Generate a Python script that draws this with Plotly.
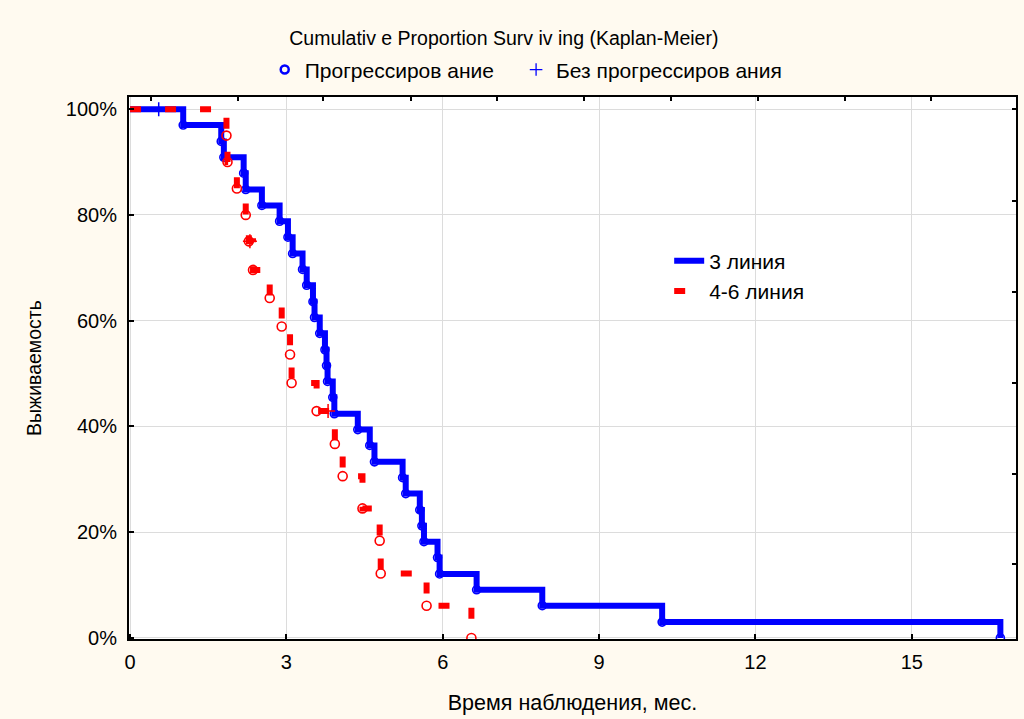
import plotly.graph_objects as go

# Kaplan-Meier step data: event times (months) and survival after each event
line3_times = [0, 1.02, 1.75, 1.80, 2.18, 2.22, 2.53, 2.87, 3.03, 3.12, 3.31, 3.39,
               3.51, 3.54, 3.64, 3.74, 3.77, 3.79, 3.89, 3.92, 4.37, 4.60, 4.69,
               5.23, 5.29, 5.56, 5.60, 5.64, 5.90, 5.94, 6.65, 7.91, 10.21, 16.70]
line3_surv = [1.0, 0.970, 0.939, 0.909, 0.879, 0.848, 0.818, 0.788, 0.758, 0.727,
              0.697, 0.667, 0.636, 0.606, 0.576, 0.545, 0.515, 0.485, 0.455, 0.424,
              0.394, 0.364, 0.333, 0.303, 0.273, 0.242, 0.212, 0.182, 0.152, 0.121,
              0.091, 0.061, 0.030, 0.0]
line3_cens_t = [0.55]
line3_cens_s = [1.0]

line46_times = [0, 1.85, 1.87, 2.05, 2.22, 2.28, 2.36, 2.68, 2.91, 3.07, 3.10,
                3.58, 3.93, 4.08, 4.46, 4.79, 4.81, 5.69, 6.55]
line46_surv = [1.0, 0.95, 0.90, 0.85, 0.80, 0.75, 0.696, 0.643, 0.589, 0.536,
               0.482, 0.429, 0.367, 0.306, 0.245, 0.184, 0.122, 0.061, 0.0]
line46_cens_t = [2.30, 3.80]
line46_cens_s = [0.75, 0.429]

x_ticks = [0, 3, 6, 9, 12, 15]
y_ticks = [0, 0.2, 0.4, 0.6, 0.8, 1.0]
# secondary frame ticks along the top and right borders
top_ticks = [0.40, 2.07, 3.71, 5.40, 7.05, 8.71, 10.38, 12.04, 13.71, 15.37]
right_ticks = [1.0, 0.826, 0.654, 0.482, 0.310, 0.140]

BLUE = "#0000FF"
RED = "#FF0000"
FONT = "Liberation Sans, Arial, sans-serif"

fig = go.Figure()

# 3 линия
fig.add_trace(go.Scatter(
    x=line3_times, y=line3_surv, mode="lines", line=dict(color=BLUE, width=6, shape="hv"),
    name="3 линия", legend="legend2", legendgroup="a", hoverinfo="skip"))
fig.add_trace(go.Scatter(
    x=line3_times[1:], y=line3_surv[1:], mode="markers", showlegend=False,
    marker=dict(symbol="circle-open", size=8, color=BLUE, line=dict(width=1.6, color=BLUE))))
fig.add_trace(go.Scatter(
    x=line3_cens_t, y=line3_cens_s, mode="markers", showlegend=False,
    marker=dict(symbol="cross-thin-open", size=10, color=BLUE, line=dict(width=1.5, color=BLUE))))

# 4-6 линия
fig.add_trace(go.Scatter(
    x=line46_times, y=line46_surv, mode="lines",
    line=dict(color=RED, width=6, shape="hv", dash="11px,24px"),
    name="4-6 линия", legend="legend2", legendgroup="b", hoverinfo="skip"))
fig.add_trace(go.Scatter(
    x=line46_times[1:], y=line46_surv[1:], mode="markers", showlegend=False,
    marker=dict(symbol="circle-open", size=9, color=RED, line=dict(width=1.6, color=RED))))
fig.add_trace(go.Scatter(
    x=line46_cens_t, y=line46_cens_s, mode="markers", showlegend=False,
    marker=dict(symbol="cross-thin-open", size=10, color=RED, line=dict(width=1.5, color=RED))))

# marker key shown under the title
fig.add_trace(go.Scatter(
    x=[None], y=[None], mode="markers", name="Прогрессиров ание", legend="legend",
    marker=dict(symbol="circle-open", size=8, color=BLUE, line=dict(width=2.5, color=BLUE))))
fig.add_trace(go.Scatter(
    x=[None], y=[None], mode="markers", name="Без прогрессиров ания", legend="legend3",
    marker=dict(symbol="cross-thin-open", size=9, color=BLUE, line=dict(width=1.3, color=BLUE))))

# carrier for the secondary border axes
fig.add_trace(go.Scatter(
    x=[None], y=[None], xaxis="x2", yaxis="y2", showlegend=False, hoverinfo="skip"))

key_legend = dict(orientation="h", y=1.05, yanchor="middle", xanchor="left",
                  bgcolor="rgba(0,0,0,0)", font=dict(size=21))

fig.update_layout(
    width=1024, height=719,
    margin=dict(l=129, r=6, t=97, b=80),
    paper_bgcolor="#FFFAF0", plot_bgcolor="white",
    font=dict(family=FONT, size=20, color="black"),
    title=dict(text="Cumulativ e Proportion Surv iv ing (Kaplan-Meier)",
               x=0.492, xanchor="center", y=1 - 38 / 719, yanchor="middle",
               font=dict(size=19.5)),
    legend=dict(key_legend, x=0.153),
    legend3=dict(key_legend, x=0.4364),
    legend2=dict(x=0.609, xanchor="left", y=0.735, yanchor="top",
                 bgcolor="rgba(0,0,0,0)", font=dict(size=21), tracegroupgap=0),
    showlegend=True,
    xaxis=dict(range=[-0.02, 17.0], tickvals=x_ticks, ticks="inside", ticklen=5,
               tickcolor="black", tickwidth=1.5, showline=True, linewidth=2,
               linecolor="black", mirror=True, showgrid=True, gridcolor="#DCDCDC",
               gridwidth=1, zeroline=False, ticklabelstandoff=4,
               title=dict(text="Время наблюдения, мес.", standoff=23, font=dict(size=21.5))),
    yaxis=dict(range=[-0.002, 1.023], tickvals=y_ticks, tickformat=".0%", ticks="inside",
               ticklen=5, tickcolor="black", tickwidth=1.5, showline=True, linewidth=2,
               linecolor="black", mirror=True, showgrid=True, gridcolor="#DCDCDC",
               gridwidth=1, zeroline=False, ticklabelstandoff=6,
               title=dict(text="Выживаемость", standoff=19, font=dict(size=19.5))),
    xaxis2=dict(overlaying="x", side="top", range=[-0.02, 17.0], tickvals=top_ticks,
                ticks="inside", ticklen=4, tickcolor="black", tickwidth=1.5,
                showticklabels=False, showgrid=False, showline=False, zeroline=False),
    yaxis2=dict(overlaying="y", side="right", range=[-0.002, 1.023], tickvals=right_ticks,
                ticks="inside", ticklen=4, tickcolor="black", tickwidth=1.5,
                showticklabels=False, showgrid=False, showline=False, zeroline=False),
)

fig.write_html("out.html")
